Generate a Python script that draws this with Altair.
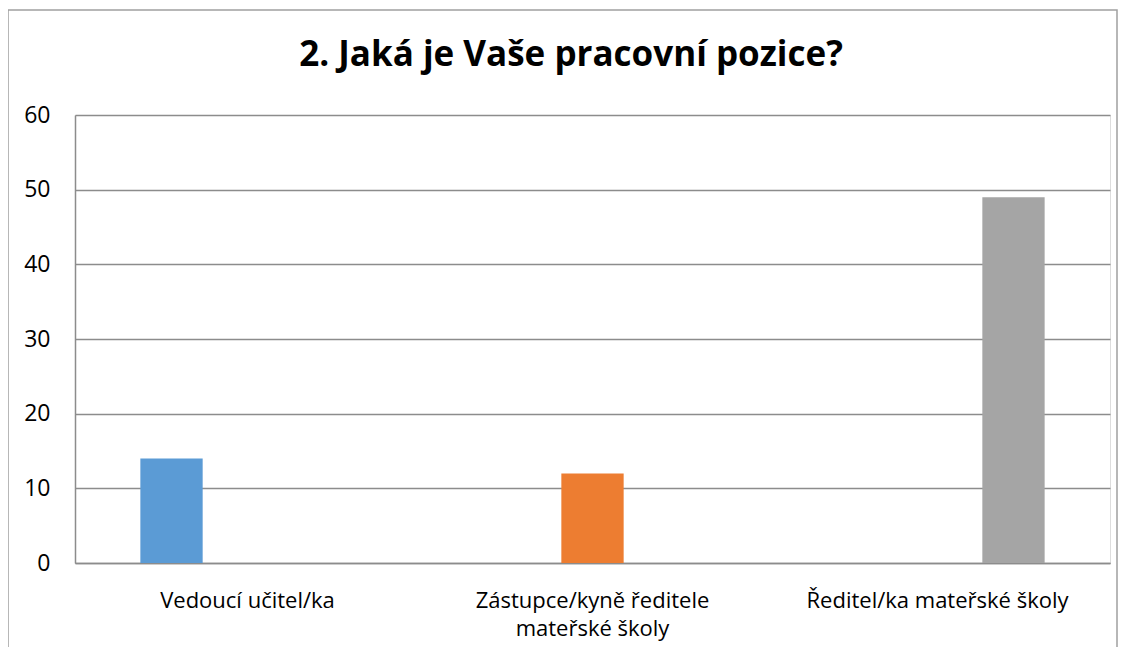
import altair as alt
import pandas as pd

title_text = "2. Jaká je Vaše pracovní pozice?"
categories = [
    "Vedoucí učitel/ka",
    "Zástupce/kyně ředitele\nmateřské školy",
    "Ředitel/ka mateřské školy",
]
values = [14, 12, 49]
colors = ["#5B9BD5", "#ED7D31", "#A5A5A5"]
y_ticks = [0, 10, 20, 30, 40, 50, 60]

FONT = "Open Sans"
GRID = "#8c8c8c"

df = pd.DataFrame({"kategorie": categories, "serie": categories, "pocet": values})

bars = alt.Chart(df).mark_bar().encode(
    x=alt.X(
        "kategorie:N",
        sort=categories,
        scale=alt.Scale(paddingInner=0, paddingOuter=0),
        axis=alt.Axis(
            title=None,
            labelAngle=0,
            labelExpr="split(datum.label, '\\n')",
            labelFontSize=22,
            labelFont=FONT,
            labelColor="#000000",
            labelPadding=27,
            labelLineHeight=28,
            labelLimit=0,
            ticks=False,
            grid=False,
            domainColor=GRID,
            domainWidth=1.5,
        ),
    ),
    xOffset=alt.XOffset(
        "serie:N",
        sort=categories,
        scale=alt.Scale(paddingInner=0.18, paddingOuter=0.86),
    ),
    y=alt.Y(
        "pocet:Q",
        scale=alt.Scale(domain=[0, 60]),
        axis=alt.Axis(
            title=None,
            values=y_ticks,
            labelFontSize=23,
            labelFont=FONT,
            labelColor="#000000",
            labelPadding=25,
            ticks=False,
            grid=True,
            gridColor=GRID,
            gridWidth=1.3,
            domainColor=GRID,
            domainWidth=1.5,
        ),
    ),
    color=alt.Color(
        "serie:N",
        scale=alt.Scale(domain=categories, range=colors),
        legend=None,
    ),
)

border = alt.Chart(pd.DataFrame({"b": [0]})).mark_rect(
    fill=None, stroke="#a0a0a0", strokeWidth=1.5, clip=False
).encode(
    x=alt.value(-67),
    x2=alt.value(1042),
    y=alt.value(-105),
    y2=alt.value(600),
)

title = alt.Chart(pd.DataFrame({"t": [title_text]})).mark_text(
    font=FONT,
    fontSize=35,
    fontWeight="bold",
    color="#000000",
    align="center",
    baseline="alphabetic",
    clip=False,
).encode(
    text="t:N",
    x=alt.value(496),
    y=alt.value(-49),
)

chart = (
    alt.layer(border, bars, title)
    .properties(
        width=1035,
        height=448,
        autosize=alt.AutoSizeParams(type="none"),
        padding={"left": 67, "top": 107, "right": 10, "bottom": 84},
    )
    .configure_view(stroke=None)
    .configure(background="white")
)

chart.save("out.html", embed_options={"renderer": "svg", "actions": False})
